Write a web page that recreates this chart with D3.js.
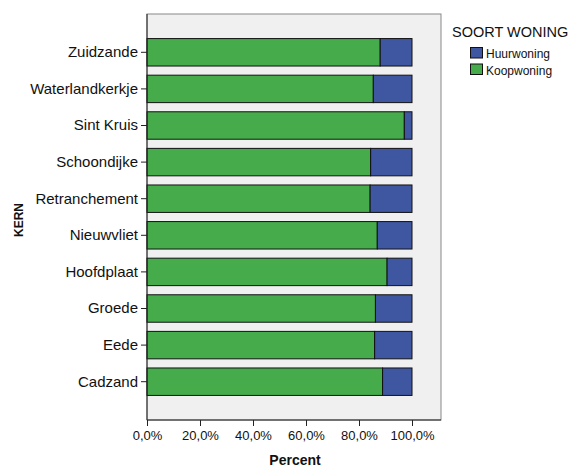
<!DOCTYPE html>
<html>
<head>
<meta charset="utf-8">
<script src="https://cdn.jsdelivr.net/npm/d3@7"></script>
<style>
  body { margin: 0; background: #fff; }
  svg { display: block; }
</style>
</head>
<body>
<svg id="chart" width="568" height="466"></svg>
<script>
// categories, top to bottom
const kernen = ['Zuidzande', 'Waterlandkerkje', 'Sint Kruis', 'Schoondijke', 'Retranchement',
  'Nieuwvliet', 'Hoofdplaat', 'Groede', 'Eede', 'Cadzand'];
// percent Koopwoning per kern (rest is Huurwoning)
const koop = [88.0, 85.4, 97.1, 84.4, 84.2, 86.9, 90.6, 86.2, 85.9, 88.9];
const series = ['Huurwoning', 'Koopwoning'];
const xTicks = [0, 20, 40, 60, 80, 100];

const font = 'Liberation Sans, Arial, sans-serif';
const colors = { Huurwoning: '#3f57a1', Koopwoning: '#46ab4b' };

const svg = d3.select('#chart');
const plot = { l: 147, t: 14, r: 441, b: 420 };

const x = d3.scaleLinear().domain([0, 100]).range([plot.l, plot.l + 265]);
const y = d3.scaleBand().domain(kernen).range([34, 400]).paddingInner(0.25).paddingOuter(0.125);

// plot background
svg.append('rect').attr('x', plot.l).attr('y', plot.t)
  .attr('width', plot.r - plot.l).attr('height', plot.b - plot.t)
  .attr('fill', '#f0f0f0').attr('stroke', '#888').attr('stroke-width', 1);

// bars: koop from 0, huur stacked after it
const rows = kernen.map((k, i) => ({ k, koop: koop[i], huur: 100 - koop[i] }));
const g = svg.append('g');
rows.forEach(d => {
  g.append('rect').attr('x', x(0)).attr('y', y(d.k))
    .attr('width', x(d.koop) - x(0)).attr('height', y.bandwidth())
    .attr('fill', colors.Koopwoning).attr('stroke', '#111').attr('stroke-width', 1);
  g.append('rect').attr('x', x(d.koop)).attr('y', y(d.k))
    .attr('width', x(100) - x(d.koop)).attr('height', y.bandwidth())
    .attr('fill', colors.Huurwoning).attr('stroke', '#111').attr('stroke-width', 1);
});

// y axis
const yAxis = svg.append('g').attr('transform', `translate(${plot.l},0)`)
  .call(d3.axisLeft(y).tickSize(6).tickPadding(3));
yAxis.select('.domain').attr('d', `M0,${plot.t}V${plot.b}`).attr('stroke', '#222');
yAxis.selectAll('.tick line').attr('stroke', '#222');
yAxis.selectAll('text').attr('font-family', font).attr('font-size', 15).attr('fill', '#111');

// x axis
const xAxis = svg.append('g').attr('transform', `translate(0,${plot.b})`)
  .call(d3.axisBottom(x).tickValues(xTicks).tickSize(6).tickPadding(5)
    .tickFormat(v => v.toFixed(1).replace('.', ',') + '%'));
xAxis.select('.domain').attr('d', `M${plot.l},0H${plot.r}`).attr('stroke', '#222');
xAxis.selectAll('.tick line').attr('stroke', '#222');
xAxis.selectAll('text').attr('font-family', font).attr('font-size', 13).attr('fill', '#111');

// axis titles
svg.append('text').attr('x', 295).attr('y', 464.5).attr('text-anchor', 'middle')
  .attr('font-family', font).attr('font-size', 14).attr('font-weight', 'bold').attr('fill', '#111')
  .text('Percent');
svg.append('text').attr('transform', 'translate(23,220) rotate(-90)').attr('text-anchor', 'middle')
  .attr('font-family', font).attr('font-size', 12).attr('font-weight', 'bold').attr('fill', '#111')
  .text('KERN');

// legend
svg.append('text').attr('x', 452).attr('y', 36.5)
  .attr('font-family', font).attr('font-size', 14.5).attr('fill', '#111').text('SOORT WONING');
series.forEach((s, i) => {
  svg.append('rect').attr('x', 470.5).attr('y', 47.5 + i * 16.5).attr('width', 12).attr('height', 10.5)
    .attr('fill', colors[s]).attr('stroke', '#111');
  svg.append('text').attr('x', 486).attr('y', 58 + i * 16.5)
    .attr('font-family', font).attr('font-size', 12).attr('fill', '#111').text(s);
});
</script>
</body>
</html>
